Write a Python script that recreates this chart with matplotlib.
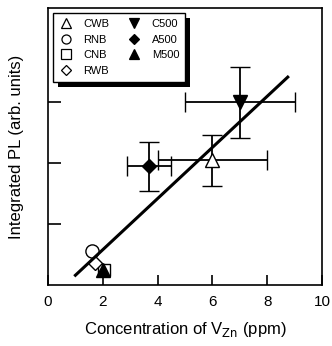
import numpy as np
import matplotlib
matplotlib.use("Agg")
import matplotlib.pyplot as plt
from matplotlib.lines import Line2D
from matplotlib.patches import Rectangle

plt.rcParams['font.family'] = ['Liberation Sans', 'DejaVu Sans']

# samples: name, marker, filled, x, y, xerr, yerr
names = ["CWB", "RNB", "CNB", "RWB", "C500", "A500", "M500"]
markers = ["^", "o", "s", "D", "v", "D", "^"]
filled = [False, False, False, False, True, True, True]
conc = [6.0, 1.6, 2.05, 1.72, 7.0, 3.7, 2.0]
pl = [2.05, 0.56, 0.25, 0.36, 3.0, 1.95, 0.24]
conc_err = [2.0, 0, 0, 0, 2.0, 0.8, 0]
pl_err = [0.42, 0, 0, 0, 0.58, 0.4, 0]

fit_x = [1.0, 8.75]
fit_slope = 0.42
fit_icpt = -0.26

fig = plt.figure(figsize=(3.32, 3.46), dpi=100)
ax = fig.add_axes([48/332, 1 - 285/346, 274/332, 277/346])

for n, m, f, x, y, xe, ye in zip(names, markers, filled, conc, pl, conc_err, pl_err):
    ms = {"D": 7.5, "o": 9.5, "s": 9}.get(m, 10)
    ax.errorbar(x, y, xerr=xe if xe else None, yerr=ye if ye else None,
                fmt=m, ms=ms, mfc='k' if f else 'white', mec='k', mew=1.0,
                ecolor='k', elinewidth=1.3, capsize=7, capthick=1.3,
                zorder=3)

fx = np.array(fit_x)
ax.plot(fx, fit_slope * fx + fit_icpt, color='k', lw=2.2, zorder=4)

ax.set_xlim(0, 10)
ax.set_ylim(0, 4.55)
ax.set_xticks([0, 2, 4, 6, 8, 10])
ax.set_yticks([1, 2, 3])
ax.set_yticklabels([])
ax.tick_params(direction='in', length=7, width=1.2, labelsize=11, pad=7)
ax.tick_params(axis='y', direction='in', length=9)
for s in ax.spines.values():
    s.set_linewidth(1.2)

ax.set_xlabel("Concentration of V$_{\\mathrm{Zn}}$ (ppm)", fontsize=12, labelpad=8)
ax.set_ylabel("Integrated PL (arb. units)", fontsize=12, labelpad=10)

proxies = []
for m, f in zip(markers, filled):
    proxies.append(Line2D([], [], ls='none', marker=m, ms=6.5 if m != "D" else 5,
                          mfc='k' if f else 'white', mec='k', mew=0.9))
blank = Line2D([], [], ls='none')
leg = ax.legend(proxies + [blank], names + [""],
                ncol=2, loc='upper left', fontsize=8, frameon=True,
                fancybox=False, edgecolor='k', facecolor='white', framealpha=1,
                borderaxespad=0.45,
                handlelength=1.2, handletextpad=1.0, columnspacing=1.6,
                labelspacing=0.5, borderpad=0.55)
leg.get_frame().set_linewidth(1.0)
leg.set_zorder(6)

# solid black drop shadow behind the legend box
fig.canvas.draw()
bb = leg.get_frame().get_window_extent()
ax.add_patch(Rectangle((bb.x0 + 5, bb.y0 - 5), bb.width, bb.height,
                       transform=None, facecolor='k', edgecolor='none',
                       zorder=5.9, clip_on=False))

fig.savefig("out.png", dpi=100)
